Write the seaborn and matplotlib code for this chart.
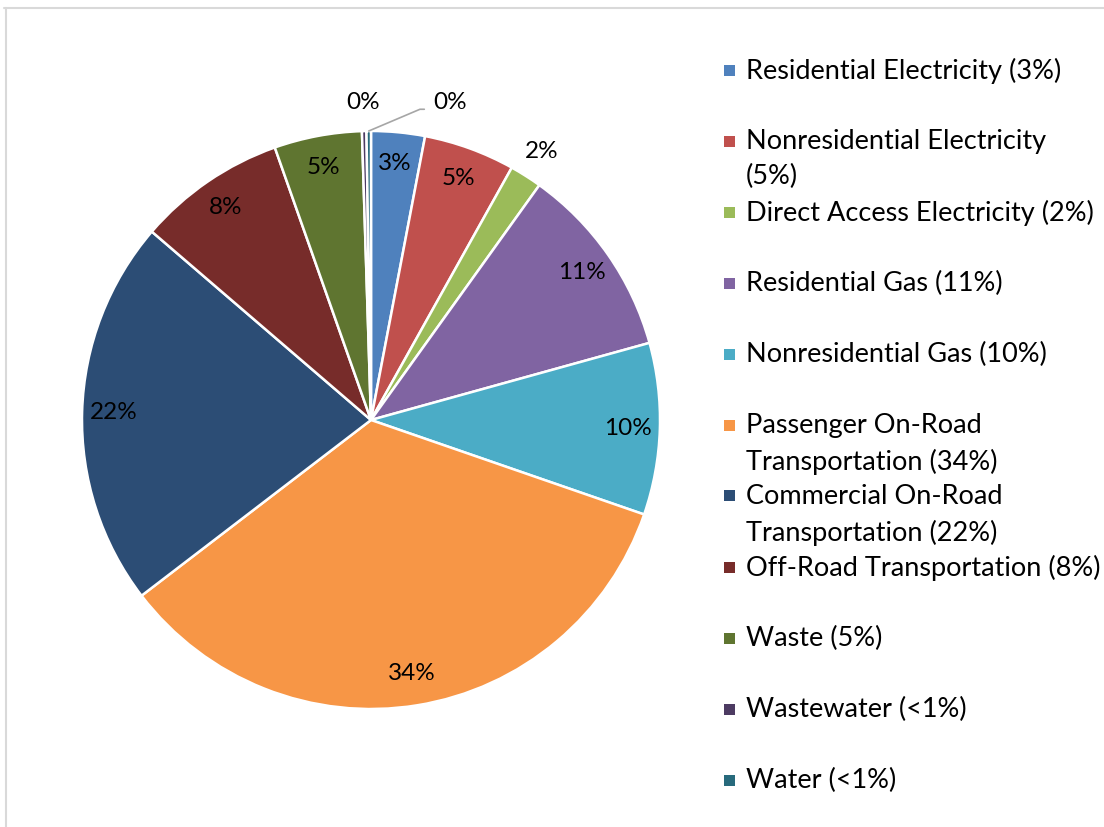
import numpy as np
import matplotlib
matplotlib.use("Agg")
import matplotlib.pyplot as plt
import seaborn as sns
from matplotlib.lines import Line2D
from matplotlib.patches import Rectangle

# data (share of emissions, %)
categories = [
    "Residential Electricity", "Nonresidential Electricity", "Direct Access Electricity",
    "Residential Gas", "Nonresidential Gas", "Passenger On-Road Transportation",
    "Commercial On-Road Transportation", "Off-Road Transportation", "Waste",
    "Wastewater", "Water",
]
shares = [3.0, 5.1, 1.8, 10.8, 9.6, 34.3, 21.7, 8.3, 4.9, 0.25, 0.25]
legend_labels = [
    "Residential Electricity (3%)",
    "Nonresidential Electricity\n(5%)",
    "Direct Access Electricity (2%)",
    "Residential Gas (11%)",
    "Nonresidential Gas (10%)",
    "Passenger On-Road\nTransportation (34%)",
    "Commercial On-Road\nTransportation (22%)",
    "Off-Road Transportation (8%)",
    "Waste (5%)",
    "Wastewater (<1%)",
    "Water (<1%)",
]
colors = ["#4F81BD", "#C0504D", "#9BBB59", "#8064A2", "#4BACC6", "#F79646",
          "#2C4D75", "#772C2A", "#5F7530", "#4D3B62", "#276A7C"]

sns.set_theme(style="white")
plt.rcParams["font.family"] = ["Lato", "DejaVu Sans"]

W, H = 1104, 827
fig = plt.figure(figsize=(W / 100, H / 100), dpi=100)

# pie axes: centre ~(371, 420) px, radius ~289 px
cx, cy, r = 371, 420, 289
ax = fig.add_axes([(cx - r) / W, (H - cy - r) / H, 2 * r / W, 2 * r / H])

wedges, _ = ax.pie(shares, colors=colors, startangle=90, counterclock=False,
                   wedgeprops=dict(edgecolor="white", linewidth=1.8))
ax.set_xlim(-1, 1)
ax.set_ylim(-1, 1)
ax.set_aspect("equal")
ax.axis("off")

label_size = 17.5
outside = {"Direct Access Electricity": 1.1, "Wastewater": 1.1}
for w, cat, val in zip(wedges, categories, shares):
    mid = np.deg2rad((w.theta1 + w.theta2) / 2)
    txt = f"{val:.0f}%"
    if cat == "Water":
        ex, ey = np.cos(mid), np.sin(mid)
        ax.annotate(txt, xy=(ex, ey), xytext=(0.215, 1.097),
                    ha="left", va="center", fontsize=label_size, color="black",
                    annotation_clip=False,
                    arrowprops=dict(arrowstyle="-", color="#A6A6A6", lw=1.2,
                                    shrinkA=4, shrinkB=0,
                                    connectionstyle="angle,angleA=0,angleB=23,rad=0",
                                    relpos=(0, 0.2)))
        continue
    dist = outside.get(cat, 0.89)
    ax.text(dist * np.cos(mid), dist * np.sin(mid), txt, ha="center", va="center",
            fontsize=label_size, color="black", clip_on=False)

# legend drawn as a list of evenly spaced entries
top_px, step_px = 70, 71
for i, (lab, col) in enumerate(zip(legend_labels, colors)):
    yc = top_px + i * step_px
    fig.add_artist(Rectangle((724 / W, 1 - (yc + 5.5) / H), 11 / W, 11 / H,
                             transform=fig.transFigure, facecolor=col, edgecolor="none"))
    fig.text(746 / W, 1 - (yc - 12) / H, lab, ha="left", va="top",
             fontsize=19.5, color="black", linespacing=1.5)

# chart frame border (partly cropped in reference)
fig.add_artist(Line2D([4 / W, 1], [1 - 8 / H, 1 - 8 / H], color="#D9D9D9", lw=1.5,
                      transform=fig.transFigure))
fig.add_artist(Line2D([6 / W, 6 / W], [0, 1 - 8 / H], color="#D9D9D9", lw=1.5,
                      transform=fig.transFigure))

fig.savefig("out.png", dpi=100, facecolor="white")
